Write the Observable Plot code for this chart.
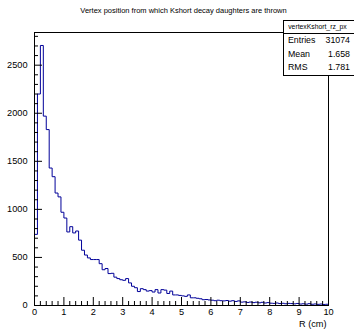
<!DOCTYPE html>
<html>
<head>
<meta charset="utf-8">
<script src="https://cdn.jsdelivr.net/npm/d3@7"></script>
<script src="https://cdn.jsdelivr.net/npm/@observablehq/plot@0.6"></script>
<style>
  html, body { margin: 0; padding: 0; background: white; }
  #wrap { position: relative; width: 354px; height: 330px; overflow: hidden; font-family: "Liberation Sans", Arial, Helvetica, sans-serif; }
  #stats { position: absolute; left: 283px; top: 20px; width: 75px; height: 56px; background: white; border: 1px solid black; box-sizing: border-box; font-size: 8.8px; color: black; }
  #stats .ttl { height: 12px; line-height: 12px; font-size: 6.8px; text-align: center; padding-right: 6px; border-bottom: 1px solid black; }
  #stats .row { height: 13.5px; line-height: 13.5px; position: relative; }
  #stats .row .k { position: absolute; left: 4px; }
  #stats .row .v { position: absolute; right: 7px; }
</style>
</head>
<body>
<div id="wrap"></div>
<script>
// ---- data ----
const title = "Vertex position from which Kshort decay daughters are thrown";
const histName = "vertexKshort_rz_px";
const statNames = ["Entries", "Mean", "RMS"];
const statValues = ["31074", "1.658", "1.781"];
const xLabel = "R (cm)";
const xMin = 0;
const binWidth = 0.1;
const binCounts = [
  740, 2200, 2705, 1970, 1830, 1430, 1340, 1170, 1130, 970,
  910, 765, 820, 755, 775, 680, 575, 525, 495, 478,
  478, 478, 435, 372, 385, 332, 335, 295, 280, 268,
  262, 280, 235, 200, 185, 145, 175, 165, 150, 155,
  140, 165, 130, 165, 160, 125, 150, 110, 110, 105,
  100, 95, 110, 80, 80, 75, 70, 60, 62, 58,
  55, 50, 55, 50, 48, 52, 45, 50, 42, 48,
  35, 38, 32, 36, 30, 34, 28, 33, 26, 30,
  24, 22, 26, 20, 23, 18, 22, 20, 17, 21,
  15, 18, 14, 19, 13, 16, 12, 15, 11, 13
];
const xMajorTicks = [0, 1, 2, 3, 4, 5, 6, 7, 8, 9, 10];
const xMinorTicks = d3.range(0, 10.0001, 0.2).map(v => +v.toFixed(1)).filter(v => Math.abs(v - Math.round(v)) > 1e-6);
const yMajorTicks = [0, 500, 1000, 1500, 2000, 2500];
const yMinorTicks = d3.range(100, 2801, 100).filter(v => v % 500 !== 0);
const yMax = 2840;

// ---- build step outline ----
const pts = [{x: xMin, y: 0}];
binCounts.forEach((v, i) => pts.push({x: xMin + i * binWidth, y: v}));
pts.push({x: xMin + binCounts.length * binWidth, y: binCounts[binCounts.length - 1]});

const W = 354, H = 330;
const mL = 34, mR = 26, mT = 32, mB = 25;
const innerW = W - mL - mR, innerH = H - mT - mB;

const chart = Plot.plot({
  width: W,
  height: H,
  marginLeft: mL,
  marginRight: mR,
  marginTop: mT,
  marginBottom: mB,
  style: {fontFamily: "'Liberation Sans', Arial, Helvetica, sans-serif", fontSize: "9px", background: "white", color: "black", overflow: "visible"},
  x: {domain: [0, 10]},
  y: {domain: [0, yMax]},
  marks: [
    Plot.line(pts, {x: "x", y: "y", curve: "step-after", stroke: "#000099", strokeWidth: 1}),
    Plot.ruleY(yMajorTicks, {stroke: "black", insetRight: innerW - 8}),
    Plot.ruleY(yMinorTicks, {stroke: "black", insetRight: innerW - 4}),
    Plot.ruleX(xMajorTicks, {stroke: "black", insetTop: innerH - 8}),
    Plot.ruleX(xMinorTicks, {stroke: "black", insetTop: innerH - 4}),
    Plot.frame({stroke: "black"}),
    Plot.axisX(xMajorTicks, {tickSize: 0, tickPadding: 3, label: null, fontSize: 9.2, tickFormat: d => String(d)}),
    Plot.axisY(yMajorTicks, {tickSize: 0, tickPadding: 7, label: null, fontSize: 9.2, tickFormat: d => String(d)}),
    Plot.text([xLabel], {frameAnchor: "bottom-right", dx: -2, dy: 19, textAnchor: "end", lineAnchor: "middle", fontSize: 9.2}),
    Plot.text([title], {frameAnchor: "top", dx: 2, dy: -22, lineAnchor: "middle", fontSize: 7.5})
  ]
});

const wrap = document.getElementById("wrap");
wrap.appendChild(chart);

const stats = document.createElement("div");
stats.id = "stats";
let html = `<div class="ttl">${histName}</div>`;
statNames.forEach((n, i) => {
  html += `<div class="row"><span class="k">${n}</span><span class="v">${statValues[i]}</span></div>`;
});
stats.innerHTML = html;
wrap.appendChild(stats);
</script>
</body>
</html>
